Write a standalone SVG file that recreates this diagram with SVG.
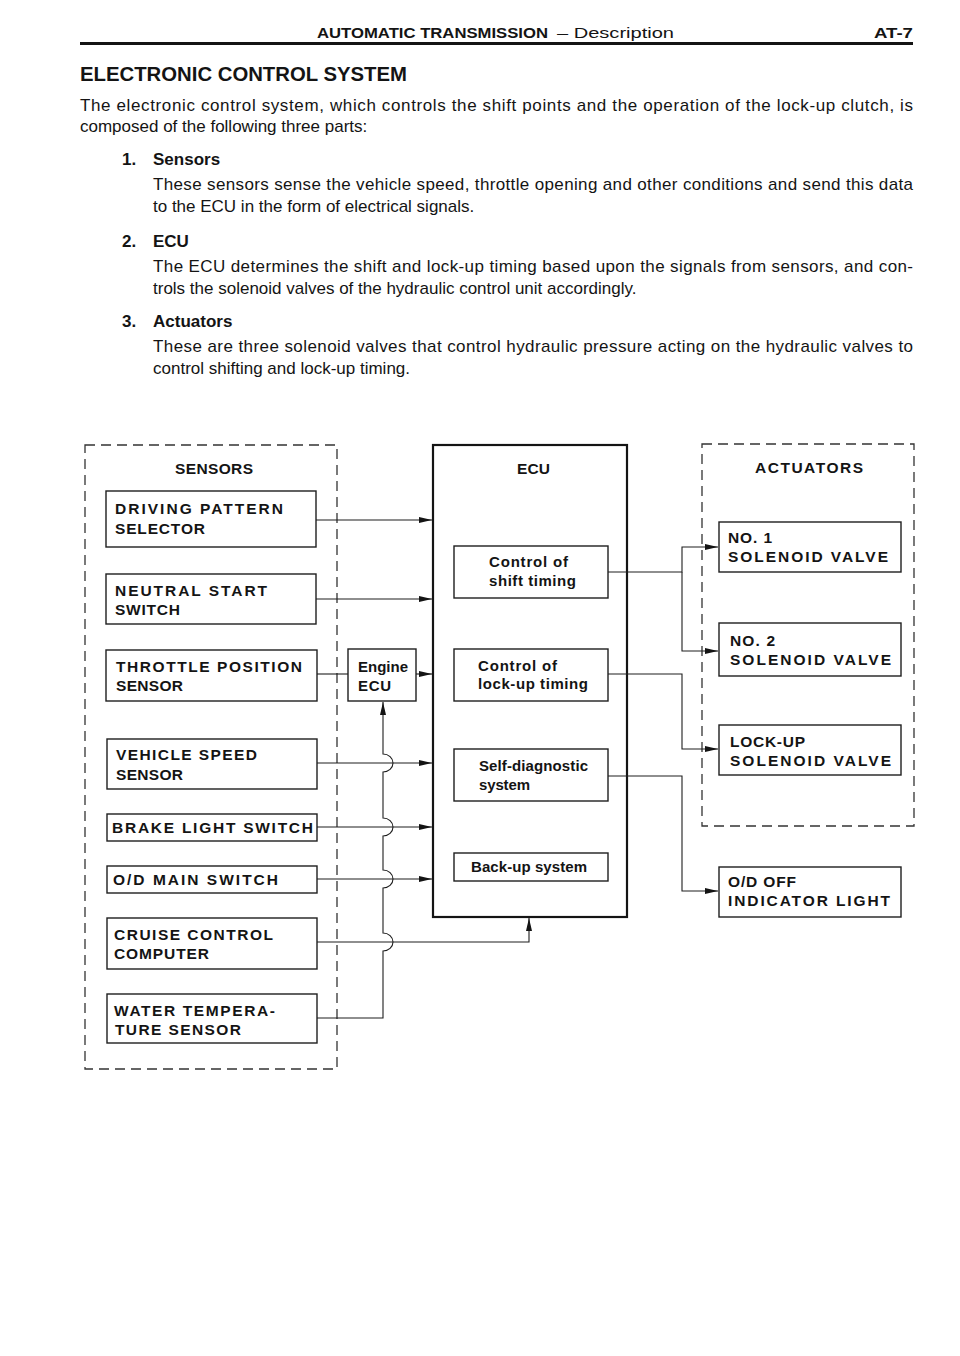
<svg xmlns="http://www.w3.org/2000/svg" width="960" height="1356" viewBox="0 0 960 1356">
<defs>
<style>
text{font-family:"Liberation Sans",Arial,sans-serif;fill:#141414}
.b{font-weight:bold}
.hd{font-size:15px}
.body{font-size:17px}
.lbl{font-size:15.5px;font-weight:bold}
.in{font-size:15px;font-weight:bold}
.box{fill:none;stroke:#1e1e1e;stroke-width:1.4}
.dash{fill:none;stroke:#333;stroke-width:1.3;stroke-dasharray:10 6}
.ln{fill:none;stroke:#1e1e1e;stroke-width:1.1}
</style>
<marker id="ah" markerUnits="userSpaceOnUse" markerWidth="14" markerHeight="7" refX="13" refY="3" orient="auto">
<path d="M0,0 L13,3 L0,6 z" fill="#141414"/>
</marker>
</defs>
<rect width="960" height="1356" fill="#fff"/>

<g id="page-header">
<text x="317" y="38" class="hd b" textLength="231" lengthAdjust="spacingAndGlyphs">AUTOMATIC TRANSMISSION</text>
<text x="557" y="38" class="hd" textLength="117" lengthAdjust="spacingAndGlyphs">– Description</text>
<text x="874" y="38" class="hd b" textLength="39" lengthAdjust="spacingAndGlyphs">AT-7</text>
<line x1="80" y1="43.5" x2="913" y2="43.5" stroke="#141414" stroke-width="3"/>
</g>

<g id="intro-text">
<text x="80" y="81" class="b" font-size="20" textLength="327" lengthAdjust="spacingAndGlyphs">ELECTRONIC CONTROL SYSTEM</text>
<text x="80" y="111" class="body" textLength="833" lengthAdjust="spacing">The electronic control system, which controls the shift points and the operation of the lock-up clutch, is</text>
<text x="80" y="132" class="body">composed of the following three parts:</text>
<text x="122" y="165" class="body b">1.</text>
<text x="153" y="165" class="body b">Sensors</text>
<text x="153" y="190" class="body" textLength="760" lengthAdjust="spacing">These sensors sense the vehicle speed, throttle opening and other conditions and send this data</text>
<text x="153" y="212" class="body">to the ECU in the form of electrical signals.</text>
<text x="122" y="247" class="body b">2.</text>
<text x="153" y="247" class="body b">ECU</text>
<text x="153" y="272" class="body" textLength="760" lengthAdjust="spacing">The ECU determines the shift and lock-up timing based upon the signals from sensors, and con-</text>
<text x="153" y="294" class="body">trols the solenoid valves of the hydraulic control unit accordingly.</text>
<text x="122" y="327" class="body b">3.</text>
<text x="153" y="327" class="body b">Actuators</text>
<text x="153" y="352" class="body" textLength="760" lengthAdjust="spacing">These are three solenoid valves that control hydraulic pressure acting on the hydraulic valves to</text>
<text x="153" y="374" class="body">control shifting and lock-up timing.</text>
</g>

<g id="sensors-group">
<rect x="85" y="445" width="252" height="624" class="dash"/>
<text x="175" y="474" class="lbl" textLength="78" lengthAdjust="spacing">SENSORS</text>
</g>

<g id="driving-pattern-selector">
<rect x="106" y="491" width="210" height="56" class="box"/>
<text x="115" y="514" class="lbl" textLength="168" lengthAdjust="spacing">DRIVING PATTERN</text>
<text x="115" y="534" class="lbl" textLength="90" lengthAdjust="spacing">SELECTOR</text>
</g>
<g id="neutral-start-switch">
<rect x="106" y="574" width="210" height="50" class="box"/>
<text x="115" y="596" class="lbl" textLength="152" lengthAdjust="spacing">NEUTRAL START</text>
<text x="115" y="615" class="lbl" textLength="65" lengthAdjust="spacing">SWITCH</text>
</g>
<g id="throttle-position-sensor">
<rect x="106" y="650" width="211" height="51" class="box"/>
<text x="116" y="672" class="lbl" textLength="186" lengthAdjust="spacing">THROTTLE POSITION</text>
<text x="116" y="691" class="lbl" textLength="67" lengthAdjust="spacing">SENSOR</text>
</g>
<g id="vehicle-speed-sensor">
<rect x="107" y="739" width="210" height="50" class="box"/>
<text x="116" y="760" class="lbl" textLength="141" lengthAdjust="spacing">VEHICLE SPEED</text>
<text x="116" y="780" class="lbl" textLength="67" lengthAdjust="spacing">SENSOR</text>
</g>
<g id="brake-light-switch">
<rect x="107" y="814" width="210" height="27" class="box"/>
<text x="112" y="833" class="lbl" textLength="201" lengthAdjust="spacing">BRAKE LIGHT SWITCH</text>
</g>
<g id="od-main-switch">
<rect x="107" y="866" width="210" height="27" class="box"/>
<text x="113" y="885" class="lbl" textLength="165" lengthAdjust="spacing">O/D MAIN SWITCH</text>
</g>
<g id="cruise-control-computer">
<rect x="107" y="918" width="210" height="51" class="box"/>
<text x="114" y="940" class="lbl" textLength="159" lengthAdjust="spacing">CRUISE CONTROL</text>
<text x="114" y="959" class="lbl" textLength="95" lengthAdjust="spacing">COMPUTER</text>
</g>
<g id="water-temperature-sensor">
<rect x="107" y="994" width="210" height="49" class="box"/>
<text x="114" y="1016" class="lbl" textLength="161" lengthAdjust="spacing">WATER TEMPERA-</text>
<text x="115" y="1035" class="lbl" textLength="126" lengthAdjust="spacing">TURE SENSOR</text>
</g>

<g id="engine-ecu">
<rect x="348" y="649" width="68" height="52" class="box"/>
<text x="358" y="672" class="in" textLength="50" lengthAdjust="spacing">Engine</text>
<text x="358" y="691" class="in" textLength="33" lengthAdjust="spacing">ECU</text>
</g>

<g id="ecu">
<rect x="433" y="445" width="194" height="472" fill="none" stroke="#141414" stroke-width="2.2"/>
<text x="517" y="474" class="lbl" textLength="33" lengthAdjust="spacing">ECU</text>
</g>
<g id="control-shift-timing">
<rect x="454" y="546" width="154" height="52" class="box"/>
<text x="489" y="567" class="in" textLength="79" lengthAdjust="spacing">Control of</text>
<text x="489" y="586" class="in" textLength="87" lengthAdjust="spacing">shift timing</text>
</g>
<g id="control-lockup-timing">
<rect x="454" y="649" width="154" height="52" class="box"/>
<text x="478" y="671" class="in" textLength="79" lengthAdjust="spacing">Control of</text>
<text x="478" y="689" class="in" textLength="110" lengthAdjust="spacing">lock-up timing</text>
</g>
<g id="self-diagnostic-system">
<rect x="454" y="749" width="154" height="52" class="box"/>
<text x="479" y="771" class="in" textLength="109" lengthAdjust="spacing">Self-diagnostic</text>
<text x="479" y="790" class="in" textLength="51" lengthAdjust="spacing">system</text>
</g>
<g id="backup-system">
<rect x="454" y="853" width="154" height="28" class="box"/>
<text x="471" y="872" class="in" textLength="116" lengthAdjust="spacing">Back-up system</text>
</g>

<g id="actuators-group">
<rect x="702" y="444" width="212" height="382" class="dash"/>
<text x="755" y="473" class="lbl" textLength="108" lengthAdjust="spacing">ACTUATORS</text>
</g>
<g id="no1-solenoid-valve">
<rect x="719" y="522" width="182" height="50" class="box"/>
<text x="728" y="543" class="lbl" textLength="44" lengthAdjust="spacing">NO. 1</text>
<text x="728" y="562" class="lbl" textLength="160" lengthAdjust="spacing">SOLENOID VALVE</text>
</g>
<g id="no2-solenoid-valve">
<rect x="719" y="623" width="182" height="53" class="box"/>
<text x="730" y="646" class="lbl" textLength="45" lengthAdjust="spacing">NO. 2</text>
<text x="730" y="665" class="lbl" textLength="161" lengthAdjust="spacing">SOLENOID VALVE</text>
</g>
<g id="lockup-solenoid-valve">
<rect x="719" y="725" width="182" height="50" class="box"/>
<text x="730" y="747" class="lbl" textLength="75" lengthAdjust="spacing">LOCK-UP</text>
<text x="730" y="766" class="lbl" textLength="161" lengthAdjust="spacing">SOLENOID VALVE</text>
</g>
<g id="od-off-indicator-light">
<rect x="719" y="867" width="182" height="50" class="box"/>
<text x="728" y="887" class="lbl" textLength="68" lengthAdjust="spacing">O/D OFF</text>
<text x="728" y="906" class="lbl" textLength="162" lengthAdjust="spacing">INDICATOR LIGHT</text>
</g>

<g id="connectors">
<path class="ln" d="M316,520 H432" marker-end="url(#ah)"/>
<path class="ln" d="M316,599 H432" marker-end="url(#ah)"/>
<path class="ln" d="M317,674 H348"/>
<path class="ln" d="M416,674 H432" marker-end="url(#ah)"/>
<path class="ln" d="M317,763 H432" marker-end="url(#ah)"/>
<path class="ln" d="M317,827 H432" marker-end="url(#ah)"/>
<path class="ln" d="M317,879 H432" marker-end="url(#ah)"/>
<path class="ln" d="M317,942 H529 V918" marker-end="url(#ah)"/>
<path class="ln" d="M317,1018 H383 V951 A10,9 0 0 0 383,933 V888 A10,9 0 0 0 383,870 V836 A10,9 0 0 0 383,818 V772 A10,9 0 0 0 383,754 V702" marker-end="url(#ah)"/>
<path class="ln" d="M608,572 H682 V547 H718" marker-end="url(#ah)"/>
<path class="ln" d="M682,572 V651 H718" marker-end="url(#ah)"/>
<path class="ln" d="M608,674 H682 V749 H718" marker-end="url(#ah)"/>
<path class="ln" d="M608,776 H682 V891 H718" marker-end="url(#ah)"/>
</g>
</svg>
